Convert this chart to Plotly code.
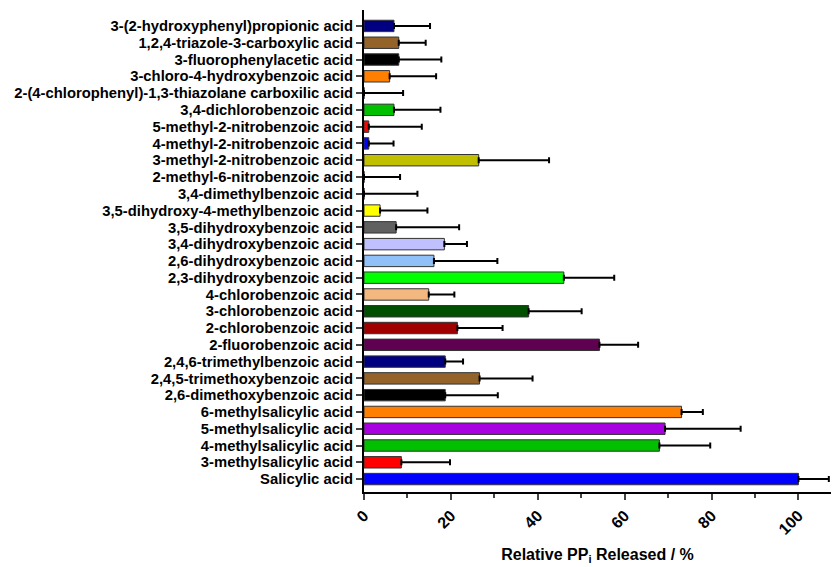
import plotly.graph_objects as go

categories = [
    "3-(2-hydroxyphenyl)propionic acid",
    "1,2,4-triazole-3-carboxylic acid",
    "3-fluorophenylacetic acid",
    "3-chloro-4-hydroxybenzoic acid",
    "2-(4-chlorophenyl)-1,3-thiazolane carboxilic acid",
    "3,4-dichlorobenzoic acid",
    "5-methyl-2-nitrobenzoic acid",
    "4-methyl-2-nitrobenzoic acid",
    "3-methyl-2-nitrobenzoic acid",
    "2-methyl-6-nitrobenzoic acid",
    "3,4-dimethylbenzoic acid",
    "3,5-dihydroxy-4-methylbenzoic acid",
    "3,5-dihydroxybenzoic acid",
    "3,4-dihydroxybenzoic acid",
    "2,6-dihydroxybenzoic acid",
    "2,3-dihydroxybenzoic acid",
    "4-chlorobenzoic acid",
    "3-chlorobenzoic acid",
    "2-chlorobenzoic acid",
    "2-fluorobenzoic acid",
    "2,4,6-trimethylbenzoic acid",
    "2,4,5-trimethoxybenzoic acid",
    "2,6-dimethoxybenzoic acid",
    "6-methylsalicylic acid",
    "5-methylsalicylic acid",
    "4-methylsalicylic acid",
    "3-methylsalicylic acid",
    "Salicylic acid",
]

values = [6.9, 8.0, 8.0, 5.9, 0, 6.9, 1.1, 1.1, 26.4, 0, 0, 3.7, 7.4, 18.5,
          16.1, 46.0, 14.9, 37.9, 21.5, 54.2, 18.7, 26.6, 18.7, 73.1, 69.3, 68.0, 8.6, 100]

errors = [8.3, 6.2, 9.8, 10.7, 9.0, 10.7, 12.2, 5.7, 16.2, 8.3, 12.3, 10.9, 14.5, 5.2,
          14.6, 11.6, 5.9, 12.2, 10.4, 8.9, 4.1, 12.2, 12.1, 4.9, 17.4, 11.7, 11.2, 7.0]

colors = ["#000080", "#94632a", "#000000", "#ff8000", "#ffffff", "#00c000", "#ff0000",
          "#0000ff", "#c0c000", "#ffffff", "#ffffff", "#ffff00", "#606060", "#c0c0ff",
          "#8fc0f8", "#00ff00", "#f2b880", "#005000", "#a00000", "#600050", "#000080",
          "#94632a", "#000000", "#ff8000", "#a800e0", "#00c000", "#ff0000", "#0000ff"]

font_family = "Liberation Sans, Arial, sans-serif"

fig = go.Figure(go.Bar(
    y=categories,
    x=values,
    orientation="h",
    marker=dict(color=colors, line=dict(color="#333333", width=1)),
    error_x=dict(type="data", symmetric=False, array=errors,
                 arrayminus=[0] * len(errors), color="black", thickness=2, width=3),
))

n = len(categories)
fig.update_layout(
    width=832, height=567,
    margin=dict(l=364, r=1, t=10, b=75),
    plot_bgcolor="white", paper_bgcolor="white",
    bargap=0.32,
    showlegend=False,
    font=dict(family=font_family, color="black", size=15, weight="bold"),
    xaxis=dict(
        range=[0, 107.5],
        automargin=False,
        tickvals=[0, 20, 40, 60, 80, 100],
        tickangle=-45,
        ticks="outside", ticklen=6, tickwidth=2,
        minor=dict(dtick=10, tick0=0, ticks="outside", ticklen=4, tickwidth=2),
        showline=True, linecolor="black", linewidth=2,
        showgrid=False, zeroline=False,
        tickfont=dict(size=16, family=font_family, weight="bold"),
        title=dict(text="Relative PP<sub>i</sub> Released / %",
                   font=dict(size=16, family=font_family, weight="bold"), standoff=12),
    ),
    yaxis=dict(
        range=[n - 1 + 0.77, -0.95],
        automargin=False,
        tickmode="array", tickvals=categories, ticktext=categories,
        ticks="outside", ticklen=6, tickwidth=2,
        showline=True, linecolor="black", linewidth=2,
        showgrid=False, zeroline=False,
        tickfont=dict(size=14.8, family=font_family, weight="bold"),
    ),
)

fig.write_html("out.html", config={"displayModeBar": False},
               post_script="document.body.style.margin='0';")
